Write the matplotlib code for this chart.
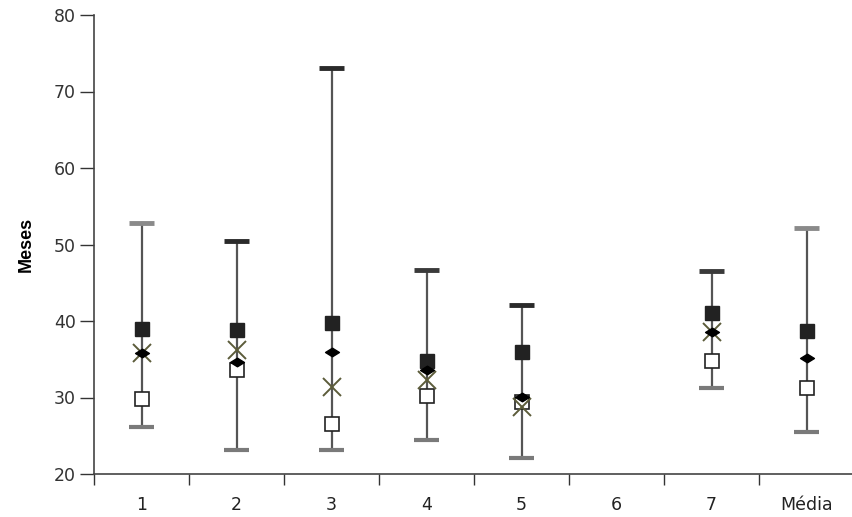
import matplotlib
matplotlib.use("Agg")
import matplotlib.pyplot as plt
from matplotlib.path import Path
import numpy as np

categories = ["1", "2", "3", "4", "5", "6", "7", "Média"]
upper = [52.8, 50.4, 73.1, 46.7, 42.1, np.nan, 46.6, 52.1]
lower = [26.2, 23.2, 23.2, 24.4, 22.1, np.nan, 31.3, 25.5]
filled_sq = [39.0, 38.8, 39.7, 34.8, 36.0, np.nan, 41.0, 38.7]
diamond = [35.8, 34.7, 36.0, 33.6, 30.1, np.nan, 38.5, 35.2]
cross = [35.8, 36.2, 31.4, 32.3, 28.7, np.nan, 38.6, np.nan]
open_sq = [29.8, 33.6, 26.5, 30.2, 29.4, np.nan, 34.8, 31.2]
top_cap_colors = ["#8a8a8a", "#2a2a2a", "#2a2a2a", "#3a3a3a", "#2a2a2a", "#2a2a2a", "#3a3a3a", "#8a8a8a"]
bottom_cap_color = "#7a7a7a"

fig = plt.figure(figsize=(8.52, 5.17), dpi=100)
ax = fig.add_axes([94/852, 43/517, 758/852, 459/517])

x = np.arange(1, len(categories) + 1)

for xi, lo, hi, tc in zip(x, lower, upper, top_cap_colors):
    if np.isnan(lo):
        continue
    ax.plot([xi, xi], [lo, hi], color="#555555", lw=1.6, zorder=1)
    ax.plot([xi - 0.13, xi + 0.13], [hi, hi], color=tc, lw=3.5, solid_capstyle="butt", zorder=2)
    ax.plot([xi - 0.13, xi + 0.13], [lo, lo], color=bottom_cap_color, lw=3.0, solid_capstyle="butt", zorder=2)

wide_diamond = Path([(-1, 0), (0, 0.62), (1, 0), (0, -0.62), (-1, 0)],
                    [Path.MOVETO, Path.LINETO, Path.LINETO, Path.LINETO, Path.CLOSEPOLY])

ax.plot(x, filled_sq, ls="none", marker="s", ms=9.5, mfc="#222222", mec="#222222", zorder=3)
ax.plot(x, open_sq, ls="none", marker="s", ms=9.5, mfc="white", mec="#222222", mew=1.2, zorder=3)
ax.plot(x, cross, ls="none", marker="x", ms=13, mec="#5c5c3a", mew=1.4, zorder=4)
ax.plot(x, diamond, ls="none", marker=wide_diamond, ms=10, mfc="black", mec="black", zorder=5)

ax.set_xlim(0.5, 0.5 + 758/95)
ax.set_ylim(20, 80)
ax.set_yticks([20, 30, 40, 50, 60, 70, 80])
ax.set_xticks(x)
ax.set_xticklabels(categories)
ax.set_xticks(np.arange(0.5, 8.5, 1.0), minor=True)
ax.tick_params(axis="x", which="major", length=0, pad=16, labelsize=12.5, colors="#222222")
ax.tick_params(axis="x", which="minor", length=8, width=1.0, direction="out", color="#333333")
ax.tick_params(axis="y", length=10, width=1.0, direction="out", labelsize=12.5, colors="#333333", pad=3)
ax.spines["top"].set_visible(False)
ax.spines["right"].set_visible(False)
ax.spines["left"].set_color("#444444")
ax.spines["bottom"].set_color("#444444")
ax.spines["left"].set_linewidth(1.2)
ax.spines["bottom"].set_linewidth(1.2)

ax.set_ylabel("Meses", fontsize=13, fontweight="bold", family="Liberation Sans", labelpad=14)

fig.savefig("out.png", dpi=100)
